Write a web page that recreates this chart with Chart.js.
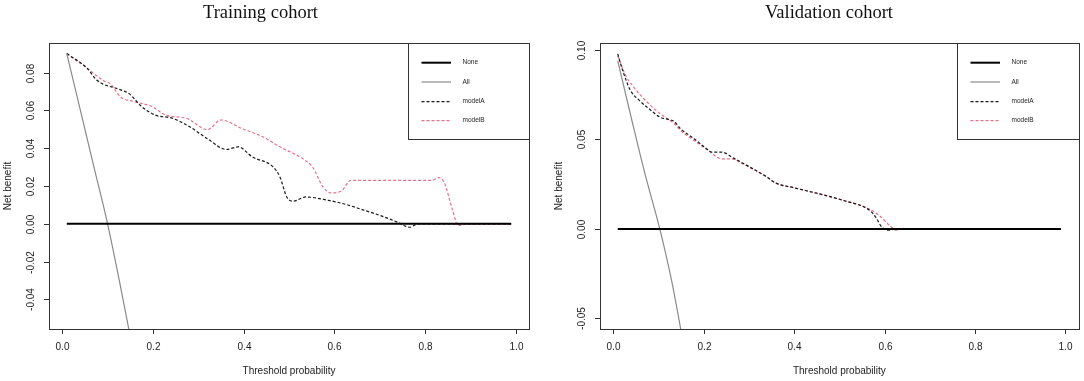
<!DOCTYPE html>
<html>
<head>
<meta charset="utf-8">
<script src="https://cdn.jsdelivr.net/npm/chart.js@4.4.1/dist/chart.umd.min.js"></script>
<style>
  html, body { margin: 0; padding: 0; background: #fff; }
  .panel { position: absolute; top: 0; width: 542px; height: 381px; }
  #left { left: 0; }
  #right { left: 542px; }
</style>
</head>
<body>
<div class="panel" id="left"><canvas id="trainChart" width="542" height="381"></canvas></div>
<div class="panel" id="right"><canvas id="validChart" width="542" height="381"></canvas></div>
<script>
// shared axis stuff
const seriesNames = ["None", "All", "modelA", "modelB"];
const xTicks = [0, 0.2, 0.4, 0.6, 0.8, 1.0];
const xTickLabels = ["0.0", "0.2", "0.4", "0.6", "0.8", "1.0"];

// training cohort
const trainYTicks = [-0.04, -0.02, 0, 0.02, 0.04, 0.06, 0.08];
const trainYTickLabels = ["-0.04", "-0.02", "0.00", "0.02", "0.04", "0.06", "0.08"];
const trainNoneX = [0.01, 0.99];
const trainNoneY = [0, 0];
const trainAllX = [0.01, 0.04, 0.07, 0.10, 0.13, 0.16];
const trainAllY = [0.090, 0.060, 0.030, 0.000, -0.035, -0.072];
const trainAX = [0.01, 0.056, 0.076, 0.129, 0.148, 0.175, 0.205, 0.243, 0.281, 0.32, 0.362, 0.388, 0.419, 0.465, 0.48, 0.495, 0.51, 0.537, 0.587, 0.625, 0.663, 0.701, 0.739, 0.766, 0.785, 0.99];
const trainAY = [0.090, 0.082, 0.076, 0.0708, 0.0687, 0.062, 0.0575, 0.0558, 0.0513, 0.045, 0.0393, 0.0407, 0.0354, 0.0301, 0.0248, 0.0142, 0.012, 0.0142, 0.0124, 0.0103, 0.0074, 0.0044, 0.0009, -0.0018, 0, 0];
const trainBX = [0.01, 0.056, 0.091, 0.106, 0.129, 0.159, 0.198, 0.228, 0.274, 0.32, 0.35, 0.396, 0.442, 0.48, 0.533, 0.552, 0.575, 0.594, 0.617, 0.636, 0.815, 0.831, 0.842, 0.861, 0.873, 0.888, 0.99];
const trainBY = [0.090, 0.082, 0.0757, 0.074, 0.067, 0.0646, 0.062, 0.0575, 0.0558, 0.0498, 0.0549, 0.0504, 0.046, 0.0407, 0.034, 0.030, 0.0195, 0.0163, 0.0177, 0.023, 0.023, 0.0244, 0.022, 0.007, -0.001, 0, 0];

// validation cohort
const validYTicks = [-0.05, 0, 0.05, 0.10];
const validYTickLabels = ["-0.05", "0.00", "0.05", "0.10"];
const validNoneX = [0.01, 0.99];
const validNoneY = [0, 0];
const validAllX = [0.01, 0.04, 0.07, 0.103, 0.13, 0.16];
const validAllY = [0.094, 0.062, 0.031, 0.000, -0.030, -0.071];
const validAX = [0.01, 0.021, 0.038, 0.057, 0.080, 0.103, 0.122, 0.134, 0.149, 0.179, 0.202, 0.218, 0.24, 0.263, 0.302, 0.34, 0.359, 0.40, 0.454, 0.508, 0.569, 0.58, 0.595, 0.611, 0.622, 0.99];
const validAY = [0.0978, 0.0885, 0.0775, 0.0720, 0.0670, 0.0625, 0.0612, 0.0602, 0.056, 0.0504, 0.0457, 0.0429, 0.0429, 0.040, 0.0346, 0.029, 0.0257, 0.023, 0.0197, 0.016, 0.010, 0.0067, 0.0007, -0.0007, 0, 0];
const validBX = [0.01, 0.027, 0.046, 0.0725, 0.103, 0.134, 0.149, 0.179, 0.21, 0.24, 0.26, 0.286, 0.34, 0.359, 0.40, 0.454, 0.508, 0.569, 0.592, 0.613, 0.626, 0.64, 0.99];
const validBY = [0.0968, 0.086, 0.079, 0.0715, 0.0645, 0.059, 0.055, 0.0494, 0.0439, 0.0392, 0.0392, 0.0364, 0.029, 0.0257, 0.023, 0.0197, 0.016, 0.0108, 0.0067, 0.0015, -0.0007, 0, 0];

function pts(xs, ys) {
  return xs.map((x, i) => ({ x: x, y: ys[i] }));
}

// draws the R style frame, axes, titles and legend
const rPlot = {
  id: "rPlot",
  afterDraw(chart, args, o) {
    const ctx = chart.ctx;
    const a = chart.chartArea;
    const xs = chart.scales.x;
    const ys = chart.scales.y;
    ctx.save();
    ctx.strokeStyle = "#333";
    ctx.lineWidth = 1;
    ctx.strokeRect(Math.round(a.left) + 0.5, Math.round(a.top) + 0.5, Math.round(a.right - a.left), Math.round(a.bottom - a.top));

    ctx.fillStyle = "#222";
    ctx.font = "10px 'Liberation Sans', Arial, sans-serif";
    ctx.textAlign = "center";
    ctx.textBaseline = "middle";
    xTicks.forEach((v, i) => {
      const px = Math.round(xs.getPixelForValue(v)) + 0.5;
      ctx.beginPath();
      ctx.moveTo(px, a.bottom);
      ctx.lineTo(px, a.bottom + 5);
      ctx.stroke();
      ctx.fillText(xTickLabels[i], px, 347);
    });
    o.yTicks.forEach((v, i) => {
      const py = Math.round(ys.getPixelForValue(v)) + 0.5;
      ctx.beginPath();
      ctx.moveTo(a.left - 5, py);
      ctx.lineTo(a.left, py);
      ctx.stroke();
      ctx.save();
      ctx.translate(a.left - 18, py);
      ctx.rotate(-Math.PI / 2);
      ctx.fillText(o.yTickLabels[i], 0, 0);
      ctx.restore();
    });

    ctx.fillText("Threshold probability", (a.left + a.right) / 2, 371);
    ctx.save();
    ctx.translate(a.left - 41, (a.top + a.bottom) / 2);
    ctx.rotate(-Math.PI / 2);
    ctx.fillText("Net benefit", 0, 0);
    ctx.restore();

    ctx.fillStyle = "#111";
    ctx.font = "18.5px 'Liberation Serif', 'Times New Roman', serif";
    ctx.textBaseline = "alphabetic";
    ctx.fillText(o.title, o.titleX, 17.5);

    // legend
    const lx = Math.round(a.right - 121.5);
    const lb = 139;
    ctx.strokeStyle = "#333";
    ctx.lineWidth = 1;
    ctx.strokeRect(lx + 0.5, Math.round(a.top) + 0.5, Math.round(a.right) - lx, lb - Math.round(a.top));
    const rows = [62.7, 82, 101.7, 120.7];
    ctx.font = "6.5px 'Liberation Sans', Arial, sans-serif";
    ctx.textAlign = "left";
    ctx.textBaseline = "middle";
    chart.data.datasets.forEach((ds, i) => {
      ctx.save();
      ctx.strokeStyle = ds.borderColor;
      ctx.lineWidth = ds.borderWidth;
      ctx.setLineDash(ds.borderDash || []);
      ctx.beginPath();
      ctx.moveTo(lx + 13.5, rows[i]);
      ctx.lineTo(lx + 43, rows[i]);
      ctx.stroke();
      ctx.restore();
      ctx.fillStyle = "#222";
      ctx.fillText(ds.label, lx + 54.5, rows[i]);
    });
    ctx.restore();
  }
};

function makeChart(id, sets, yMin, yMax, padLeft, padRight, plugOpts) {
  const styles = [
    { borderColor: "#000000", borderWidth: 2, borderDash: [] },
    { borderColor: "#8a8a8a", borderWidth: 1.2, borderDash: [] },
    { borderColor: "#1a1a1a", borderWidth: 1.2, borderDash: [3, 2] },
    { borderColor: "#e8708a", borderWidth: 1.2, borderDash: [3, 2] }
  ];
  const datasets = sets.map((s, i) => ({
    label: seriesNames[i],
    data: s,
    borderColor: styles[i].borderColor,
    borderWidth: styles[i].borderWidth,
    borderDash: styles[i].borderDash,
    pointRadius: 0,
    fill: false,
    cubicInterpolationMode: "monotone"
  }));
  return new Chart(document.getElementById(id).getContext("2d"), {
    type: "line",
    data: { datasets: datasets },
    options: {
      responsive: false,
      animation: false,
      layout: { padding: { left: padLeft, right: padRight, top: 43, bottom: 52 } },
      scales: {
        x: { type: "linear", display: false, min: -0.0292, max: 1.0292 },
        y: { type: "linear", display: false, min: yMin, max: yMax }
      },
      plugins: {
        legend: { display: false },
        tooltip: { enabled: false },
        rPlot: plugOpts
      }
    },
    plugins: [rPlot]
  });
}

makeChart("trainChart", [
  pts(trainNoneX, trainNoneY),
  pts(trainAllX, trainAllY),
  pts(trainAX, trainAY),
  pts(trainBX, trainBY)
], -0.0556, 0.0956, 49, 13, {
  title: "Training cohort", titleX: 260.5,
  yTicks: trainYTicks, yTickLabels: trainYTickLabels
});

makeChart("validChart", [
  pts(validNoneX, validNoneY),
  pts(validAllX, validAllY),
  pts(validAX, validAY),
  pts(validBX, validBY)
], -0.0559, 0.1039, 58, 5.3, {
  title: "Validation cohort", titleX: 287,
  yTicks: validYTicks, yTickLabels: validYTickLabels
});
</script>
</body>
</html>
